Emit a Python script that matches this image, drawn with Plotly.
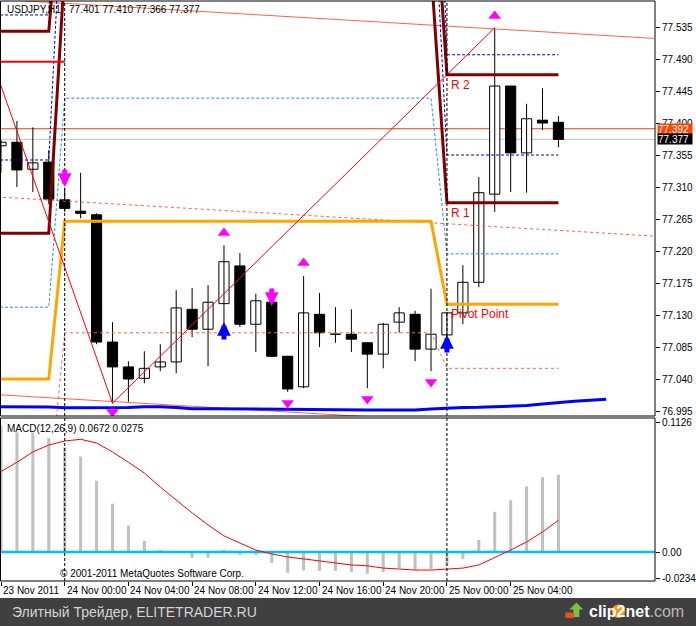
import plotly.graph_objects as go
from bisect import bisect_right

# ---------------- data ----------------
# hourly bars, hour offset from 24 Nov 2011 00:00
hours = list(range(-4, 32))
opens = [77.368, 77.373, 77.335, 77.345, 77.292, 77.276, 77.271, 77.092, 77.057, 77.041,
         77.057, 77.064, 77.138, 77.110, 77.146, 77.199, 77.117, 77.148, 77.072, 77.029,
         77.131, 77.103, 77.103, 77.091, 77.075, 77.120, 77.131, 77.082, 77.102, 77.133,
         77.176, 77.300, 77.452, 77.358, 77.404, 77.401]
highs = [77.376, 77.403, 77.394, 77.362, 77.309, 77.330, 77.273, 77.120, 77.065, 77.079,
         77.089, 77.165, 77.168, 77.172, 77.228, 77.217, 77.160, 77.151, 77.072, 77.185,
         77.161, 77.141, 77.138, 77.092, 77.119, 77.141, 77.136, 77.167, 77.134, 77.200,
         77.324, 77.534, 77.452, 77.427, 77.449, 77.410]
lows = [77.330, 77.310, 77.303, 77.286, 77.275, 77.266, 77.089, 77.006, 77.008, 77.034,
        77.051, 77.048, 77.099, 77.058, 77.109, 77.113, 77.078, 77.071, 77.022, 77.027,
        77.085, 77.091, 77.078, 77.027, 77.055, 77.105, 77.065, 77.051, 77.098, 77.117,
        77.169, 77.275, 77.303, 77.302, 77.390, 77.366]
closes = [77.373, 77.334, 77.344, 77.293, 77.280, 77.273, 77.092, 77.057, 77.040, 77.055,
          77.064, 77.140, 77.110, 77.148, 77.205, 77.117, 77.150, 77.072, 77.026, 77.133,
          77.105, 77.103, 77.096, 77.075, 77.117, 77.133, 77.082, 77.103, 77.133, 77.176,
          77.302, 77.452, 77.358, 77.406, 77.400, 77.377]

macd_hist = [0.110, 0.104, 0.104, 0.099, 0.091, 0.083, 0.062, 0.042, 0.023, 0.0096,
             0.001, 0.0, -0.005, -0.005, 0.001, -0.0025, -0.0025, -0.0096, -0.018, -0.016,
             -0.0165, -0.0165, -0.0174, -0.019, -0.0174, -0.014, -0.0157, -0.0148, -0.012, -0.006,
             0.0104, 0.035, 0.045, 0.057, 0.065, 0.0672]
macd_signal = [0.070, 0.078, 0.087, 0.093, 0.0965, 0.098, 0.0948, 0.087, 0.078, 0.0687,
               0.0565, 0.045, 0.034, 0.0235, 0.014, 0.0078, 0.0017, -0.0017, -0.0043, -0.006,
               -0.0078, -0.0096, -0.0113, -0.012, -0.014, -0.0148, -0.0157, -0.0157, -0.0148, -0.014,
               -0.0113, -0.005, 0.0017, 0.0087, 0.0174, 0.0275]

# daily levels (23 Nov, 24 Nov, 25 Nov)
day_starts = [0, 24]
level_hours = list(range(-5, 32))
pivot_lvl = [77.040, 77.262, 77.145]
r1_lvl = [77.245, 77.617, 77.288]
r2_lvl = [77.529, 77.798, 77.468]
mid_lvl = [77.141, 77.435, 77.216]
s1_lvl = [76.874, 77.105, 77.055]
navy_a_lvl = [77.552, 78.100, 77.496]
navy_b_lvl = [77.348, 77.791, 77.355]

# shifted moving average (blue)
ma_hours = list(range(-5, 35))
ma_vals = [77.0011, 77.0011, 77.0011, 77.0011, 77.0007,
           76.9996, 76.9996, 76.9996, 76.9996, 76.9999, 77.0011, 77.0011, 76.9999, 76.9982, 76.9982,
           76.9980, 76.9978, 76.9978, 76.9971, 76.9964, 76.9964, 76.9964, 76.9964, 76.9964, 76.9964,
           76.9964, 76.9964, 76.9964, 76.9978, 76.9992, 76.9999, 77.0002, 77.0007, 77.0016, 77.0027,
           77.0048, 77.0070, 77.0086, 77.0101, 77.0115]

# regression channel
channel_hours = [-5, 37]
channel_mid = [77.297, 77.241]
channel_dev = 0.278

# zigzag
zz_hours = [-5, 3, 27]
zz_vals = [77.516, 77.006, 77.534]

# red level on 23 Nov
red_hours = [-5, 0]
red_vals = [77.486, 77.486]

# fractals (marker centres)
frac_up_hours = [10, 15, 27]
frac_up_vals = [77.2453, 77.2031, 77.5505]
frac_dn_hours = [3, 14, 19, 23]
frac_dn_vals = [76.9936, 77.0063, 77.0119, 77.0358]

# signal arrows (tips)
sell_hours = [0, 13]
sell_vals = [77.310, 77.1427]
buy_hours = [10, 24]
buy_vals = [77.120, 77.102]

ask_price = 77.392
bid_price = 77.377

price_ticks = [76.995, 77.040, 77.085, 77.130, 77.175, 77.220, 77.265, 77.310,
               77.355, 77.400, 77.445, 77.490, 77.535]
macd_ticks = [0.1126, 0.0, -0.0234]
macd_tick_text = ["0.1126", "0.00", "-0.0234"]
time_tick_hours = [-4, 0, 4, 8, 12, 16, 20, 24, 28]
time_tick_text = ["23 Nov 2011", "24 Nov 00:00", "24 Nov 04:00", "24 Nov 08:00", "24 Nov 12:00",
                  "24 Nov 16:00", "24 Nov 20:00", "25 Nov 00:00", "25 Nov 04:00"]

# ---------------- layout helpers ----------------
W, H = 696, 626
ML, MR, MT, MB = 0, 38, 1, 45
PW, PH = W - ML - MR, H - MT - MB
FONT = "Liberation Sans, Arial, sans-serif"


def px(x):
    return (x - ML) / PW


def py(y):
    return (H - MB - y) / PH


def level_series(levels):
    return [levels[bisect_right(day_starts, h)] for h in level_hours]


fig = go.Figure()

# wicks
wx, wy = [], []
for h, hi, lo in zip(hours, highs, lows):
    wx += [h, h, None]
    wy += [lo, hi, None]
fig.add_trace(go.Scatter(x=wx, y=wy, mode="lines", line=dict(color="black", width=1),
                         xaxis="x", yaxis="y", hoverinfo="skip"))
# bodies
fig.add_trace(go.Bar(
    x=hours,
    y=[max(abs(c - o), 0.00012) for o, c in zip(opens, closes)],
    base=[min(o, c) for o, c in zip(opens, closes)],
    width=0.64,
    marker=dict(color=["white" if c >= o else "black" for o, c in zip(opens, closes)],
                line=dict(color="black", width=1)),
    xaxis="x", yaxis="y", hoverinfo="skip"))

TOMATO = "#FF6347"
# regression channel
slope_vals_top = [m + channel_dev for m in channel_mid]
slope_vals_bot = [m - channel_dev for m in channel_mid]
fig.add_trace(go.Scatter(x=channel_hours, y=slope_vals_top, mode="lines",
                         line=dict(color=TOMATO, width=1), hoverinfo="skip"))
fig.add_trace(go.Scatter(x=channel_hours, y=slope_vals_bot, mode="lines",
                         line=dict(color=TOMATO, width=1), hoverinfo="skip"))
fig.add_trace(go.Scatter(x=channel_hours, y=channel_mid, mode="lines",
                         line=dict(color=TOMATO, width=1, dash="3px,3px"), hoverinfo="skip"))

# moving average
fig.add_trace(go.Scatter(x=ma_hours, y=ma_vals, mode="lines",
                         line=dict(color="#0000FF", width=3), hoverinfo="skip"))

# daily levels
for lv, col, wd, dash in [
    (s1_lvl, TOMATO, 1, "3px,3px"),
    (mid_lvl, "#1E90FF", 1, "3px,2px"),
    (navy_a_lvl, "#0000B0", 1, "3px,2px"),
    (navy_b_lvl, "#0000B0", 1, "3px,2px"),
    (pivot_lvl, "#FFA500", 3, "solid"),
    (r1_lvl, "#800000", 3, "solid"),
    (r2_lvl, "#800000", 3, "solid"),
]:
    fig.add_trace(go.Scatter(x=level_hours, y=level_series(lv), mode="lines",
                             line=dict(color=col, width=wd, dash=dash), hoverinfo="skip"))

fig.add_trace(go.Scatter(x=red_hours, y=red_vals, mode="lines",
                         line=dict(color="#FF0000", width=2), hoverinfo="skip"))
fig.add_trace(go.Scatter(x=zz_hours, y=zz_vals, mode="lines",
                         line=dict(color="#FF0000", width=1), hoverinfo="skip"))

# fractals
fig.add_trace(go.Scatter(x=frac_up_hours, y=frac_up_vals, mode="markers",
                         marker=dict(symbol="triangle-up", size=11, color="#FF00FF",
                                     line=dict(width=0)), hoverinfo="skip"))
fig.add_trace(go.Scatter(x=frac_dn_hours, y=frac_dn_vals, mode="markers",
                         marker=dict(symbol="triangle-down", size=11, color="#FF00FF",
                                     line=dict(width=0)), hoverinfo="skip"))

# MACD
fig.add_trace(go.Bar(x=hours, y=macd_hist, width=0.19, marker=dict(color="#C0C0C0", line=dict(width=0)),
                     xaxis="x", yaxis="y2", hoverinfo="skip"))
fig.add_trace(go.Scatter(x=[-5, 38], y=[0, 0], mode="lines", line=dict(color="#00BFFF", width=2.5),
                         xaxis="x", yaxis="y2", hoverinfo="skip"))
fig.add_trace(go.Scatter(x=hours, y=macd_signal, mode="lines", line=dict(color="#FF0000", width=1),
                         xaxis="x", yaxis="y2", hoverinfo="skip"))

shapes = []
# ask / bid lines
shapes.append(dict(type="line", xref="paper", x0=0, x1=1, yref="y", y0=ask_price, y1=ask_price,
                   line=dict(color="#FF4500", width=1), layer="below"))
shapes.append(dict(type="line", xref="paper", x0=0, x1=1, yref="y", y0=bid_price, y1=bid_price,
                   line=dict(color="#C0C0C0", width=1), layer="below"))
# day separators
for d in day_starts:
    shapes.append(dict(type="line", xref="x", x0=d, x1=d, yref="paper", y0=0, y1=1,
                       line=dict(color="black", width=1, dash="3px,2px")))
# pane borders
shapes.append(dict(type="rect", xref="paper", x0=px(0.5), x1=px(658), yref="paper", y0=py(416), y1=py(1),
                   line=dict(color="black", width=1)))
shapes.append(dict(type="rect", xref="paper", x0=px(0.5), x1=px(658), yref="paper", y0=py(581), y1=py(418),
                   line=dict(color="black", width=1)))
# bottom banner
shapes.append(dict(type="rect", xref="paper", x0=px(-2), x1=px(700), yref="paper", y0=py(630), y1=py(598),
                   fillcolor="#404040", line=dict(width=0)))
# clip2net logo
shapes.append(dict(type="circle", xref="paper", yref="paper", x0=px(614.5), x1=px(628), y0=py(618), y1=py(604.5),
                   fillcolor="#F39A1E", line=dict(width=0)))
arrow_path = "M {},{} L {},{} L {},{} L {},{} L {},{} L {},{} L {},{} Z".format(
    px(579), py(602.5), px(586), py(609.5), px(582), py(609.5), px(582), py(617),
    px(576), py(617), px(576), py(609.5), px(572), py(609.5))
shapes.append(dict(type="path", xref="paper", yref="paper", path=arrow_path,
                   fillcolor="#7CC242", line=dict(width=0)))
shapes.append(dict(type="rect", xref="paper", yref="paper", x0=px(568), x1=px(577), y0=py(618), y1=py(612.5),
                   fillcolor="#E8502A", line=dict(width=0)))

ann = []
ann.append(dict(xref="paper", yref="paper", x=px(5), y=py(9), xanchor="left", yanchor="middle",
                text="USDJPY,H1\u00a0\u00a0 77.401 77.410 77.366 77.377", showarrow=False,
                font=dict(size=10, color="black")))
ann.append(dict(xref="paper", yref="paper", x=px(5), y=py(428), xanchor="left", yanchor="middle",
                text="MACD(12,26,9) 0.0672 0.0275", showarrow=False, font=dict(size=10, color="black")))
ann.append(dict(xref="paper", yref="paper", x=px(58), y=py(573), xanchor="left", yanchor="middle",
                text="© 2001-2011 MetaQuotes Software Corp.", showarrow=False,
                font=dict(size=10, color="black")))
for txt, lv in [("R 2", r2_lvl[2]), ("R 1", r1_lvl[2]), ("Pivot Point", pivot_lvl[2])]:
    ann.append(dict(xref="x", yref="y", x=day_starts[1], y=lv, xanchor="left", yanchor="top",
                    xshift=2, yshift=-1, text=txt, showarrow=False, font=dict(size=12, color="#FF0000")))
# price boxes
ann.append(dict(xref="paper", yref="y", x=px(660), y=ask_price, xanchor="left", yanchor="middle",
                text="77.392", showarrow=False, bgcolor="#FF4500", width=34, height=10, align="left",
                borderpad=0, font=dict(size=10, color="white")))
ann.append(dict(xref="paper", yref="y", x=px(660), y=bid_price, xanchor="left", yanchor="middle",
                text="77.377", showarrow=False, bgcolor="black", width=34, height=10, align="left",
                borderpad=0, font=dict(size=10, color="white")))
# time labels
for h, t in zip(time_tick_hours, time_tick_text):
    ann.append(dict(xref="x", yref="paper", x=h, y=py(590), xanchor="left", yanchor="middle",
                    text=t, showarrow=False, font=dict(size=10, color="black")))
# banner texts
ann.append(dict(xref="paper", yref="paper", x=px(10), y=py(612), xanchor="left", yanchor="middle",
                text="Элитный Трейдер, ELITETRADER.RU", showarrow=False,
                font=dict(size=14, color="#D4D4D4")))
ann.append(dict(xref="paper", yref="paper", x=px(590), y=py(611), xanchor="left", yanchor="middle",
                text="<b>clip2net</b><span style='color:#B8B8B8'>.com</span>", showarrow=False,
                font=dict(size=16, color="white")))
# signal arrows
for h, v in zip(sell_hours, sell_vals):
    ann.append(dict(xref="x", yref="y", x=h, y=v, ax=0, ay=-19, text="", showarrow=True,
                    arrowhead=2, arrowsize=0.55, arrowwidth=5, arrowcolor="#FF00FF"))
for h, v in zip(buy_hours, buy_vals):
    ann.append(dict(xref="x", yref="y", x=h, y=v, ax=0, ay=19, text="", showarrow=True,
                    arrowhead=2, arrowsize=0.55, arrowwidth=5, arrowcolor="#0000FF"))

fig.update_layout(
    width=W, height=H, margin=dict(l=ML, r=MR, t=MT, b=MB),
    paper_bgcolor="white", plot_bgcolor="white",
    font=dict(family=FONT, size=10, color="black"),
    showlegend=False, barmode="overlay",
    xaxis=dict(range=[-4.0625, 37.0625], anchor="y2", tickvals=time_tick_hours, ticks="outside",
               ticklen=4, tickcolor="black", showticklabels=False, showgrid=False, zeroline=False,
               showline=False, fixedrange=True),
    yaxis=dict(domain=[py(416), 1], range=[76.98797, 77.5716], side="right", anchor="x",
               tickvals=price_ticks, ticktext=[f"{v:.3f}" for v in price_ticks], ticks="outside",
               ticklen=4, tickcolor="black", tickfont=dict(size=10, color="black"),
               showgrid=False, zeroline=False, showline=False, fixedrange=True),
    yaxis2=dict(domain=[0, py(418)], range=[-0.02522, 0.11652], side="right", anchor="x",
                tickvals=macd_ticks, ticktext=macd_tick_text, ticks="outside", ticklen=4,
                tickcolor="black", tickfont=dict(size=10, color="black"),
                showgrid=False, zeroline=False, showline=False, fixedrange=True),
    shapes=shapes, annotations=ann,
)

fig.write_html("out.html", config={"displayModeBar": False},
               post_script="document.body.style.margin='0';document.body.style.overflow='hidden';")
